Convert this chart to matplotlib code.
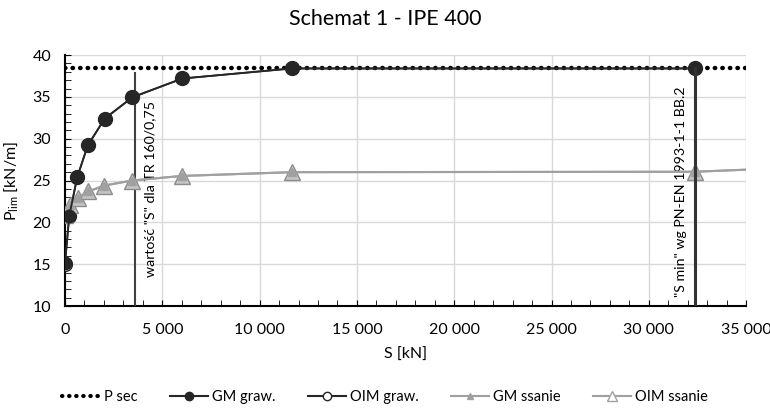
import numpy as np
import matplotlib
matplotlib.use("Agg")
import matplotlib.pyplot as plt
from matplotlib.ticker import MultipleLocator, FuncFormatter
from matplotlib.lines import Line2D

plt.rcParams['font.family'] = ['Lato', 'DejaVu Sans']
plt.rcParams['mathtext.fontset'] = 'custom'
plt.rcParams['mathtext.rm'] = 'Lato'

#### data
s_gm_graw = [0, 220, 630, 1170, 2040, 3460, 6030, 11660, 32370]
p_gm_graw = [15.1, 20.8, 25.4, 29.2, 32.4, 34.95, 37.2, 38.4, 38.4]
s_oim_graw = [0, 220, 630, 1170, 2040, 3460, 6030, 11660, 32370]
p_oim_graw = [15.0, 20.8, 25.4, 29.2, 32.4, 34.95, 37.2, 38.4, 38.4]
s_gm_ss = [0, 250, 650, 1200, 2020, 3440, 6000, 11660, 32370, 35000]
p_gm_ss = [20.9, 22.1, 22.9, 23.7, 24.4, 25.0, 25.55, 26.0, 26.05, 26.3]
s_oim_ss = [0, 250, 650, 1200, 2020, 3440, 6000, 11660, 32370, 35000]
p_oim_ss = [20.9, 22.1, 22.9, 23.7, 24.4, 25.0, 25.55, 26.0, 26.05, 26.3]
p_sec = 38.4
s_tr = 3580        # "S" for TR 160/0,75
s_min = 32370      # "S min" wg PN-EN
####

fig = plt.figure(figsize=(7.7, 4.08), dpi=100, facecolor='white')
ax = fig.add_axes([0.0844, 0.25, 0.8846, 0.615])

black = '#262626'
gray = '#a0a0a0'

ax.plot([0, 35000], [p_sec, p_sec], color='black', linestyle=(0, (0.1, 1.6)),
        dash_capstyle='round', linewidth=3.2, label='P sec', zorder=3)
ax.plot(s_oim_graw, p_oim_graw, color=black, marker='o', markersize=10,
        mfc='white', mec=black, linewidth=1.3, label='OIM graw.', zorder=4)
ax.plot(s_gm_graw, p_gm_graw, color=black, marker='o', markersize=9,
        linewidth=1.3, label='GM graw.', zorder=5)
ax.plot(s_oim_ss, p_oim_ss, color=gray, marker='^', markersize=11,
        mfc='#c4c4c4', mec='#8c8c8c', linewidth=1.5, markevery=list(range(9)),
        label='OIM ssanie', zorder=4)
ax.plot(s_gm_ss, p_gm_ss, color=gray, marker='^', markersize=6,
        linewidth=1.5, markevery=list(range(9)), label='GM ssanie', zorder=4)

ax.plot([s_tr, s_tr], [10, 37.8], color='#404040', linewidth=1.5, zorder=3)
ax.plot([s_min, s_min], [10, p_sec], color='#333333', linewidth=2.2, zorder=6)

ax.text(s_tr + 800, 13.5, 'wartość "S" dla TR 160/0,75', rotation=90,
        ha='center', va='bottom', fontsize=10.2)
ax.text(s_min - 700, 11.1, '"S min" wg PN-EN 1993-1-1 BB.2', rotation=90,
        ha='center', va='bottom', fontsize=10.2)

ax.set_xlim(0, 35000)
ax.set_ylim(10, 40)
ax.xaxis.set_major_locator(MultipleLocator(5000))
ax.xaxis.set_minor_locator(MultipleLocator(1000))
ax.yaxis.set_major_locator(MultipleLocator(5))
ax.yaxis.set_minor_locator(MultipleLocator(1))
ax.xaxis.set_major_formatter(FuncFormatter(lambda v, p: '{:,.0f}'.format(v).replace(',', ' ')))
ax.tick_params(which='both', direction='in', color='black', labelsize=11.5)
ax.tick_params(which='major', length=4)
ax.tick_params(which='minor', length=4)
ax.tick_params(axis='x', pad=12)
ax.tick_params(axis='y', pad=10)
ax.grid(True, which='major', color='#d9d9d9', linewidth=1)
ax.set_axisbelow(True)
for side in ['top', 'right']:
    ax.spines[side].set_visible(False)
for side in ['left', 'bottom']:
    ax.spines[side].set_color('black')
    ax.spines[side].set_linewidth(1.5)

ax.set_xlabel('S [kN]', fontsize=11.5, labelpad=8)
ax.set_ylabel('P$_{\\mathrm{lim}}$ [kN/m]', fontsize=11.5, labelpad=8)
fig.text(0.5, 0.953, 'Schemat 1 - IPE 400', ha='center', va='center', fontsize=15.5)

order = ['P sec', 'GM graw.', 'OIM graw.', 'GM ssanie', 'OIM ssanie']
leg_h = [
    Line2D([], [], color='black', linestyle=(0, (0.1, 1.6)), dash_capstyle='round', linewidth=3),
    Line2D([], [], color=black, marker='o', markersize=6, linewidth=1.5),
    Line2D([], [], color=black, marker='o', markersize=6, mfc='white', linewidth=1.5),
    Line2D([], [], color=gray, marker='^', markersize=5, linewidth=1.5),
    Line2D([], [], color=gray, marker='^', markersize=7, mfc='white', linewidth=1.5),
]
fig.legend(leg_h, order, loc='center', bbox_to_anchor=(0.5, 0.027), ncol=5,
           frameon=False, fontsize=10.5, handlelength=2.6, handletextpad=0.3,
           columnspacing=2.2)

fig.savefig('out.png', dpi=100, facecolor='white')
